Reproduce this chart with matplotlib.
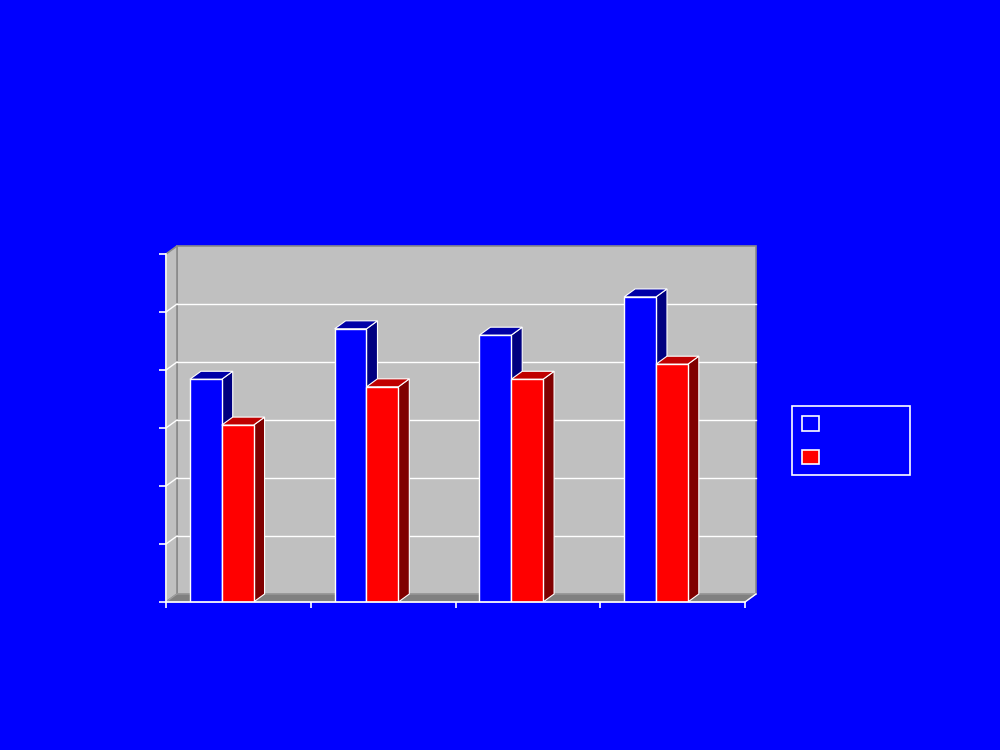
import matplotlib
matplotlib.use("Agg")
import matplotlib.pyplot as plt
from matplotlib.patches import Polygon, Patch

# datos (no hay etiquetas visibles, escala arbitraria 0-60)
categorias = ["Q1", "Q2", "Q3", "Q4"]
serie_a = [38.4, 47.1, 46.0, 52.6]
serie_b = [30.5, 37.1, 38.4, 41.0]
nombres = ["", ""]

fondo = "#0000FF"
colores = [("#0000FF", "#0000A8", "#000080"), ("#FF0000", "#C00000", "#800000")]

fig = plt.figure(figsize=(10, 7.5), dpi=100, facecolor=fondo)
ax = fig.add_axes([0.166, 148 / 750, 0.579, 348 / 750])
ax.set_facecolor("none")
ax.set_xlim(-0.5, 3.5)
ax.set_ylim(0, 60)

# profundidad del efecto 3D en unidades de datos
ddx = 11 / 144.75
ddy = 8 / 5.8
x0, x1, ytop = -0.5, 3.5, 60

# paredes y suelo
ax.add_patch(Polygon([(x0 + ddx, ddy), (x1 + ddx, ddy), (x1 + ddx, ytop + ddy), (x0 + ddx, ytop + ddy)],
                     closed=True, facecolor="#C0C0C0", edgecolor="#8A8A8A", lw=1.2, zorder=1, clip_on=False))
ax.add_patch(Polygon([(x0, 0), (x0 + ddx, ddy), (x0 + ddx, ytop + ddy), (x0, ytop)],
                     closed=True, facecolor="#C0C0C0", edgecolor="#8A8A8A", lw=1.2, zorder=1, clip_on=False))
ax.add_patch(Polygon([(x0, 0), (x1, 0), (x1 + ddx, ddy), (x0 + ddx, ddy)],
                     closed=True, facecolor="#808080", edgecolor="#A0A0A0", lw=0.8, zorder=1, clip_on=False))

# lineas de cuadricula en la pared trasera y lateral
for yv in range(10, 60, 10):
    ax.plot([x0 + ddx, x1 + ddx], [yv + ddy, yv + ddy], color="white", lw=1, zorder=2, clip_on=False)
    ax.plot([x0, x0 + ddx], [yv, yv + ddy], color="white", lw=1, zorder=2, clip_on=False)
ax.plot([x1, x1 + ddx], [0, ddy], color="white", lw=1, zorder=2, clip_on=False)

# barras con caras superior y lateral
ancho = 0.22
for i in range(len(categorias)):
    for j, valores in enumerate([serie_a, serie_b]):
        frente, arriba, lado = colores[j]
        izq = i - 0.335 + j * ancho
        der = izq + ancho
        v = valores[i]
        z = 3 + i * 2 + j
        ax.add_patch(Polygon([(der, 0), (der + ddx, ddy), (der + ddx, v + ddy), (der, v)],
                             closed=True, facecolor=lado, edgecolor="white", lw=0.8, zorder=z))
        ax.add_patch(Polygon([(izq, v), (izq + ddx, v + ddy), (der + ddx, v + ddy), (der, v)],
                             closed=True, facecolor=arriba, edgecolor="white", lw=0.8, zorder=z))
        ax.bar(izq, v, width=ancho, align="edge", color=frente, edgecolor="white", lw=1, zorder=z)

# ejes frontales
for s in ["top", "right"]:
    ax.spines[s].set_visible(False)
for s in ["left", "bottom"]:
    ax.spines[s].set_color("white")
    ax.spines[s].set_linewidth(1.2)
    ax.spines[s].set_zorder(20)
ax.set_yticks(range(0, 61, 10))
ax.set_xticks([-0.5, 0.5, 1.5, 2.5, 3.5])
ax.tick_params(axis="y", colors="white", length=5, width=1.2, labelleft=False)
ax.tick_params(axis="x", colors="white", length=4, width=1.2, labelbottom=False)

# leyenda
manejadores = [Patch(facecolor=colores[0][0], edgecolor="white", lw=1.2),
               Patch(facecolor=colores[1][0], edgecolor="white", lw=1.2)]
leg = fig.legend(manejadores, nombres, loc="upper left",
                 bbox_to_anchor=(0.792, 1 - 475 / 750, 0.118, 69 / 750), mode="expand",
                 facecolor=fondo, edgecolor="white", framealpha=1, fancybox=False,
                 handlelength=1.2, handleheight=1.2, labelspacing=1.35, borderpad=0.75,
                 borderaxespad=0)
leg.get_frame().set_linewidth(1.2)

fig.savefig("out.png", dpi=100, facecolor=fondo)
